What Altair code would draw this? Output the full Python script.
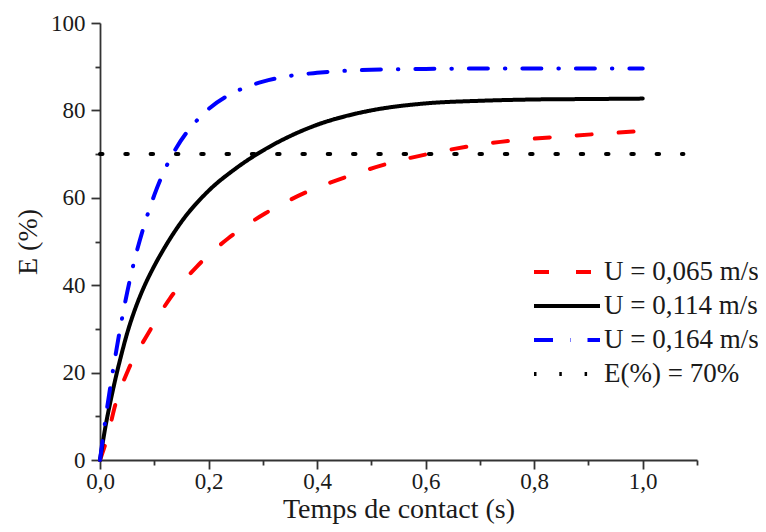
import altair as alt
import pandas as pd

# ---- data ----
series_names = ["U = 0,065 m/s", "U = 0,114 m/s", "U = 0,164 m/s", "E(%) = 70%"]
series_colors = ["#FF0000", "#000000", "#0000FF", "#000000"]

t_red = [0, 0.012, 0.029, 0.052, 0.089, 0.129, 0.178, 0.237, 0.304, 0.375, 0.461, 0.554, 0.615, 0.738, 0.861, 1.0]
e_red = [0, 4.5, 13.0, 20.6, 29.0, 37.0, 44.2, 50.8, 56.4, 61.0, 65.1, 68.6, 70.3, 72.8, 74.1, 75.3]

t_black = [0, 0.01, 0.02, 0.03, 0.04, 0.05, 0.06, 0.07, 0.08, 0.10, 0.12, 0.15, 0.20, 0.25, 0.30,
           0.35, 0.40, 0.45, 0.50, 0.60, 0.70, 0.80, 0.90, 1.0]
e_black = [0, 7.6, 13.8, 19.4, 24.4, 29.0, 32.9, 36.3, 39.3, 44.4, 48.8, 54.5, 61.6, 66.7, 70.8,
           74.1, 76.7, 78.6, 80.0, 81.6, 82.2, 82.5, 82.6, 82.7]

t_blue = [0, 0.01, 0.02, 0.03, 0.04, 0.05, 0.06, 0.08, 0.10, 0.12, 0.14, 0.16, 0.18, 0.20, 0.25,
          0.30, 0.35, 0.40, 0.50, 0.60, 0.80, 1.0]
e_blue = [0, 9.3, 17.5, 25.0, 32.0, 38.3, 43.9, 53.1, 60.6, 66.6, 71.3, 75.0, 77.9, 80.3, 84.3,
          86.6, 87.9, 88.6, 89.3, 89.5, 89.6, 89.6]

t_ref = [0.0, 1.075]
e_ref = [70, 70]

x_ticks = [0.0, 0.1, 0.2, 0.3, 0.4, 0.5, 0.6, 0.7, 0.8, 0.9, 1.0, 1.1]
y_ticks = [0, 10, 20, 30, 40, 50, 60, 70, 80, 90, 100]

# ---- table ----
rows = []
for name, ts, es in zip(series_names, [t_red, t_black, t_blue, t_ref], [e_red, e_black, e_blue, e_ref]):
    for t, e in zip(ts, es):
        rows.append({"t": t, "E": e, "serie": name})
df = pd.DataFrame(rows)

dashes = [[15, 27], [1, 0], [19, 17, 0.5, 17], [2.5, 22.8]]
FONT = "Liberation Serif"
TXT = "#1a1a1a"

major_x = "round(datum.value*10) % 2 == 0 && datum.value < 1.05"
major_y = "datum.value % 20 == 0"

chart = alt.Chart(df).mark_line(
    strokeWidth=4, strokeCap="round", interpolate="monotone"
).encode(
    x=alt.X("t:Q",
            scale=alt.Scale(domain=[0, 1.1], nice=False, zero=False),
            axis=alt.Axis(
                values=x_ticks,
                title="Temps de contact (s)",
                labelExpr=f"{major_x} ? replace(format(datum.value, '.1f'), '.', ',') : ''",
                tickSize={"condition": {"test": major_x, "value": 9}, "value": 5},
                labelOverlap=False, labelFlush=False,
                labelPadding=1,
                titleY=57, titleBaseline="alphabetic",
            )),
    y=alt.Y("E:Q",
            scale=alt.Scale(domain=[0, 100], nice=False),
            axis=alt.Axis(
                values=y_ticks,
                title="E (%)",
                labelExpr=f"{major_y} ? datum.label : ''",
                tickSize={"condition": {"test": major_y, "value": 9}, "value": 5},
                labelOverlap=False, labelFlush=False,
                labelPadding=6,
                titleX=-64, titleY=218.5, titleAlign="center", titleBaseline="alphabetic",
            )),
    color=alt.Color("serie:N", sort=None,
                    scale=alt.Scale(domain=series_names, range=series_colors),
                    legend=alt.Legend(title=None)),
    strokeDash=alt.StrokeDash("serie:N", sort=None,
                              scale=alt.Scale(domain=series_names, range=dashes),
                              legend=alt.Legend(title=None)),
    order=alt.Order("t:Q"),
).properties(
    width=597, height=437,
    autosize=alt.AutoSizeParams(type="none"),
    padding={"left": 92, "top": 15, "right": 61, "bottom": 64},
).configure_view(
    stroke=None
).configure_axis(
    grid=False,
    domainColor="#333333", domainWidth=1.8,
    tickColor="#333333", tickWidth=1.8,
    labelFont=FONT, labelFontSize=23, labelColor=TXT,
    titleFont=FONT, titleFontSize=28, titleColor=TXT, titleFontWeight="normal",
).configure_legend(
    orient="none", legendX=432, legendY=232,
    symbolType="stroke", symbolSize=4356, symbolStrokeWidth=4,
    labelFont=FONT, labelFontSize=27, labelColor=TXT, labelOffset=2, labelLimit=400,
    rowPadding=0, clipHeight=34,
)

chart.save("out.html", embed_options={"renderer": "svg", "actions": False})
